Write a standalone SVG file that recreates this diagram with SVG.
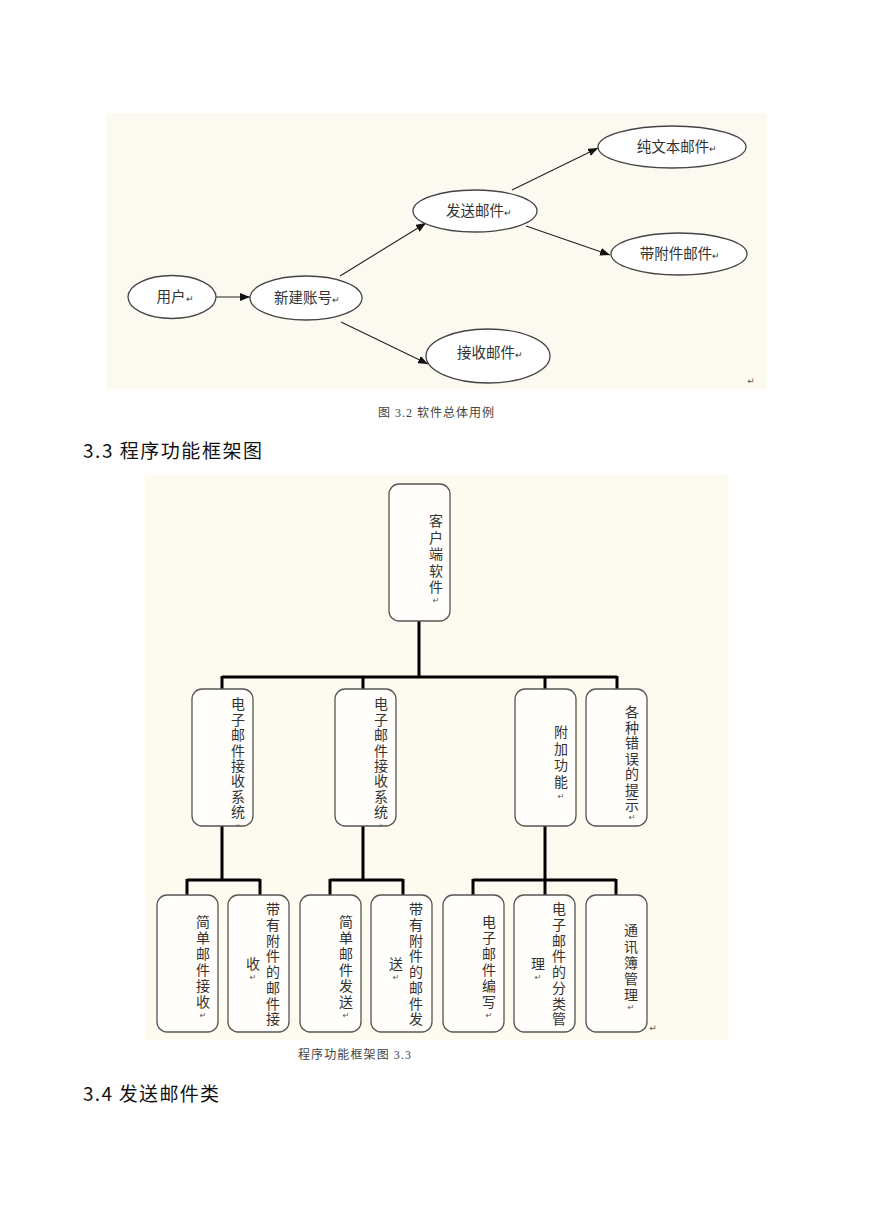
<svg xmlns="http://www.w3.org/2000/svg" width="873" height="1228" viewBox="0 0 873 1228">
<style>
.bg{fill:#fcfaf0}
.el{fill:#fff;stroke:#444;stroke-width:1.3}
.lbl{font-family:"Noto Sans CJK SC","Liberation Sans",sans-serif;font-size:14.5px;fill:#333;text-anchor:middle}
.arr{stroke:#222;stroke-width:1.1;fill:none;marker-end:url(#ah)}
.box{fill:#fffefa;stroke:#555;stroke-width:1.3}
.vt{font-family:"Noto Sans CJK SC","Liberation Sans",sans-serif;font-size:14px;fill:#333;writing-mode:vertical-rl;text-orientation:upright}
.rm{font-family:"DejaVu Sans",sans-serif;font-size:8px;fill:#555;text-anchor:middle}
.tree{stroke:#000;stroke-width:3;fill:none}
.cap{font-family:"Liberation Serif","Noto Sans CJK SC",serif;font-size:12px;fill:#444}
.h{font-family:"Noto Sans CJK SC","Liberation Sans",sans-serif;font-size:19px;fill:#111}
</style>
<defs>
<marker id="ah" markerUnits="userSpaceOnUse" markerWidth="10" markerHeight="8" refX="10" refY="4" orient="auto">
<path d="M0,0 L10,4 L0,8 z" fill="#111"/>
</marker>
</defs>
<rect width="873" height="1228" fill="#fff"/>

<!-- Diagram 1 -->
<rect class="bg" x="106" y="113" width="661" height="276"/>
<text class="rm" x="751" y="384" style="font-size:9px">↵</text>
<g id="connectors1">
<line class="arr" x1="216" y1="297" x2="250" y2="297"/>
<line class="arr" x1="340" y1="276" x2="426" y2="223"/>
<line class="arr" x1="512" y1="190" x2="598" y2="148"/>
<line class="arr" x1="526" y1="226" x2="610" y2="255"/>
<line class="arr" x1="341" y1="322" x2="428" y2="364"/>
</g>
<g id="n-user"><ellipse class="el" cx="172" cy="297" rx="44" ry="21.5"/><text class="lbl" x="175" y="302">用户<tspan style="font-size:9px">↵</tspan></text></g>
<g id="n-new"><ellipse class="el" cx="306" cy="298" rx="56" ry="22"/><text class="lbl" x="307" y="303">新建账号<tspan style="font-size:9px">↵</tspan></text></g>
<g id="n-send"><ellipse class="el" cx="475" cy="211" rx="62" ry="21"/><text class="lbl" x="479" y="216">发送邮件<tspan style="font-size:9px">↵</tspan></text></g>
<g id="n-plain"><ellipse class="el" cx="672" cy="147" rx="74" ry="21"/><text class="lbl" x="677" y="152">纯文本邮件<tspan style="font-size:9px">↵</tspan></text></g>
<g id="n-attach"><ellipse class="el" cx="679" cy="254" rx="68" ry="21"/><text class="lbl" x="680" y="259">带附件邮件<tspan style="font-size:9px">↵</tspan></text></g>
<g id="n-recv"><ellipse class="el" cx="488" cy="356" rx="62" ry="27"/><text class="lbl" x="490" y="358">接收邮件<tspan style="font-size:9px">↵</tspan></text></g>

<text class="cap" x="378" y="417" textLength="116" lengthAdjust="spacing">图 3.2 软件总体用例</text>
<text class="h" x="83" y="458" textLength="179" lengthAdjust="spacing">3.3 程序功能框架图</text>

<!-- Diagram 2 -->
<rect class="bg" x="145" y="475" width="583" height="565" style="fill:#fdfaf0"/>
<g id="connectors2">
<path class="tree" d="M419,621 V677 M222,677 H617 M222,676 V689 M363,676 V689 M545,676 V689 M617,676 V689"/>
<path class="tree" d="M222,826 V880 M187,880 H260 M187,879 V895 M260,879 V895"/>
<path class="tree" d="M363,826 V880 M330,880 H403 M330,879 V895 M403,879 V895"/>
<path class="tree" d="M545,826 V880 M473,880 H616 M473,879 V895 M545,879 V895 M616,879 V895"/>
</g>

<g id="root"><rect class="box" x="389" y="484" width="61" height="137" rx="10"/>
<text class="vt" x="436" y="514" style="letter-spacing:2.5px">客户端软件</text>
<text class="rm" x="436" y="603">↵</text></g>

<g id="l2a"><rect class="box" x="192" y="689" width="61" height="137" rx="10"/>
<text class="vt" x="238" y="697" style="letter-spacing:1.4px">电子邮件接收系统</text>
<text class="rm" x="238" y="827" style="font-size:5px">↵</text></g>

<g id="l2b"><rect class="box" x="335" y="689" width="61" height="137" rx="10"/>
<text class="vt" x="381" y="697" style="letter-spacing:1.4px">电子邮件接收系统</text>
<text class="rm" x="381" y="827" style="font-size:5px">↵</text></g>

<g id="l2c"><rect class="box" x="515" y="689" width="61" height="137" rx="10"/>
<text class="vt" x="561" y="725" style="letter-spacing:2.5px">附加功能</text>
<text class="rm" x="561" y="799">↵</text></g>

<g id="l2d"><rect class="box" x="586" y="689" width="61" height="137" rx="10"/>
<text class="vt" x="632" y="705" style="letter-spacing:1.5px">各种错误的提示</text>
<text class="rm" x="632" y="820">↵</text></g>

<g id="l3a"><rect class="box" x="157" y="895" width="61" height="137" rx="10"/>
<text class="vt" x="203" y="915" style="letter-spacing:2px">简单邮件接收</text>
<text class="rm" x="203" y="1018">↵</text></g>

<g id="l3b"><rect class="box" x="228" y="895" width="61" height="137" rx="10"/>
<text class="vt" x="273" y="902" style="letter-spacing:1.7px">带有附件的邮件接</text>
<text class="vt" x="253" y="957">收</text>
<text class="rm" x="253" y="980">↵</text></g>

<g id="l3c"><rect class="box" x="300" y="895" width="61" height="137" rx="10"/>
<text class="vt" x="346" y="915" style="letter-spacing:2px">简单邮件发送</text>
<text class="rm" x="346" y="1018">↵</text></g>

<g id="l3d"><rect class="box" x="371" y="895" width="61" height="137" rx="10"/>
<text class="vt" x="416" y="902" style="letter-spacing:1.7px">带有附件的邮件发</text>
<text class="vt" x="396" y="957">送</text>
<text class="rm" x="396" y="980">↵</text></g>

<g id="l3e"><rect class="box" x="443" y="895" width="61" height="137" rx="10"/>
<text class="vt" x="489" y="915" style="letter-spacing:2px">电子邮件编写</text>
<text class="rm" x="489" y="1018">↵</text></g>

<g id="l3f"><rect class="box" x="514" y="895" width="61" height="137" rx="10"/>
<text class="vt" x="559" y="902" style="letter-spacing:1.7px">电子邮件的分类管</text>
<text class="vt" x="538" y="957">理</text>
<text class="rm" x="538" y="980">↵</text></g>

<g id="l3g"><rect class="box" x="586" y="895" width="61" height="137" rx="10"/>
<text class="vt" x="631" y="923" style="letter-spacing:2.25px">通讯簿管理</text>
<text class="rm" x="631" y="1010">↵</text></g>
<text class="rm" x="653" y="1031" style="font-size:9px">↵</text>

<text class="cap" x="298" y="1059" textLength="113" lengthAdjust="spacing">程序功能框架图 3.3</text>
<text class="h" x="83" y="1101" textLength="136" lengthAdjust="spacing">3.4 发送邮件类</text>
</svg>
